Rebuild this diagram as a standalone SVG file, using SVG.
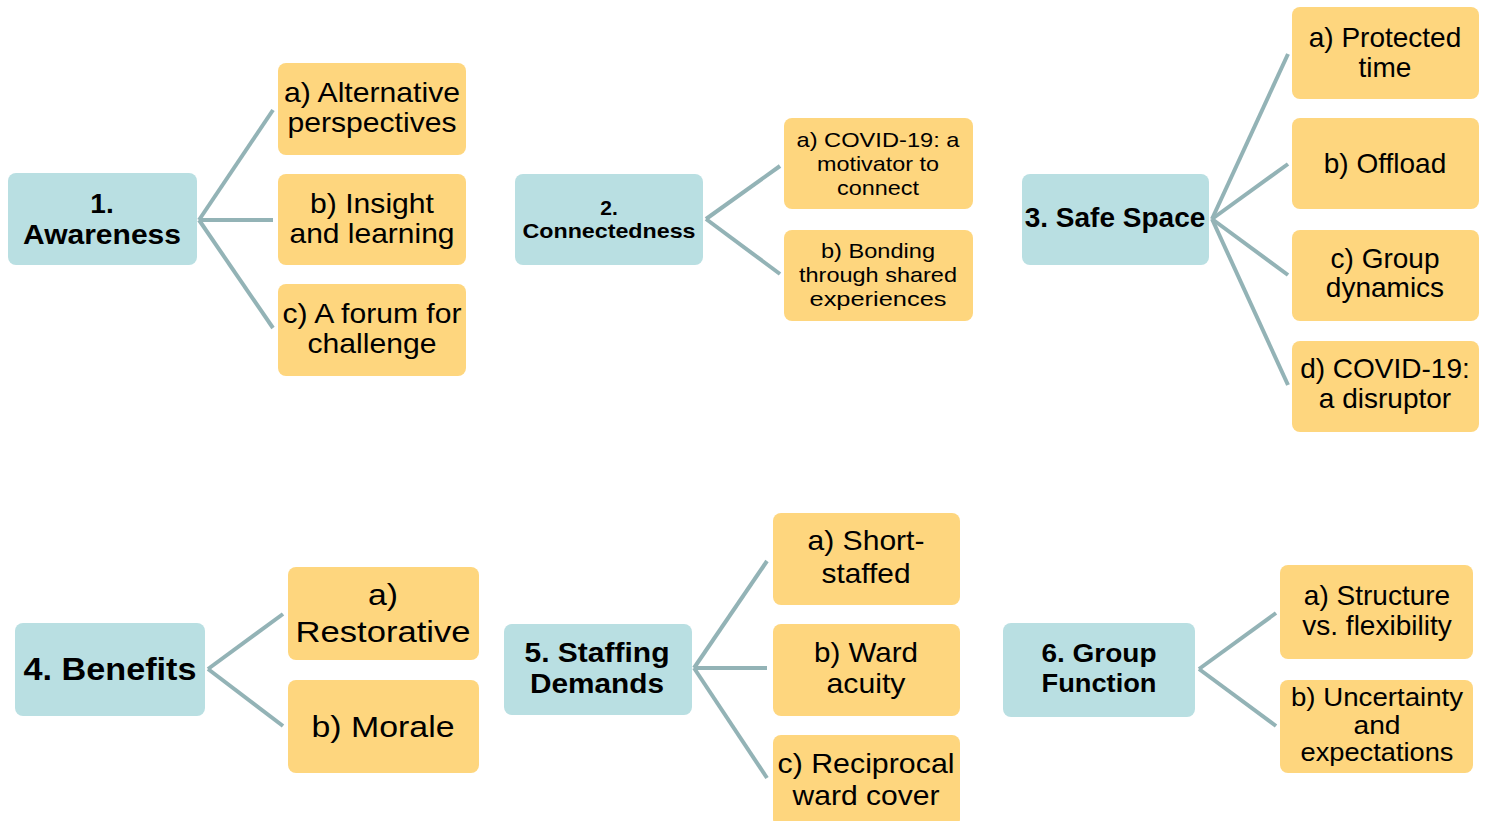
<svg xmlns="http://www.w3.org/2000/svg" width="1486" height="821" viewBox="0 0 1486 821">
<style>
.main{fill:#b9dfe2}
.sub{fill:#fed67e}
.t{font-family:"Liberation Sans",Arial,sans-serif;fill:#000;text-anchor:middle}
.b{font-weight:bold}
.conn line{stroke:#93b3b6;stroke-width:4;stroke-linecap:butt}
</style>
<rect width="1486" height="821" fill="#fff"/>
<g class="conn" id="connectors">
<line x1="199" y1="220" x2="273" y2="110"/>
<line x1="199" y1="220" x2="273" y2="220"/>
<line x1="199" y1="220" x2="273" y2="328"/>
<line x1="706" y1="219" x2="780" y2="166"/>
<line x1="706" y1="219" x2="780" y2="274"/>
<line x1="1212" y1="219" x2="1288" y2="54"/>
<line x1="1212" y1="219" x2="1288" y2="164"/>
<line x1="1212" y1="219" x2="1288" y2="275"/>
<line x1="1212" y1="219" x2="1288" y2="385"/>
<line x1="208" y1="669" x2="283" y2="614"/>
<line x1="208" y1="669" x2="283" y2="726"/>
<line x1="694" y1="668" x2="767" y2="561"/>
<line x1="694" y1="668" x2="767" y2="668"/>
<line x1="694" y1="668" x2="767" y2="778"/>
<line x1="1199" y1="669" x2="1276" y2="613"/>
<line x1="1199" y1="669" x2="1276" y2="726"/>
</g>

<g id="n1">
<rect class="main" x="8" y="173" width="189" height="92" rx="8"/>
<text class="t b" x="102" y="213" font-size="28">1.</text>
<text class="t b" x="102" y="244" font-size="28" textLength="158" lengthAdjust="spacingAndGlyphs">Awareness</text>
</g>
<g id="n1a">
<rect class="sub" x="278" y="63" width="188" height="92" rx="8"/>
<text class="t" x="372" y="102" font-size="28" textLength="176" lengthAdjust="spacingAndGlyphs">a) Alternative</text>
<text class="t" x="372" y="132" font-size="28" textLength="169" lengthAdjust="spacingAndGlyphs">perspectives</text>
</g>
<g id="n1b">
<rect class="sub" x="278" y="174" width="188" height="91" rx="8"/>
<text class="t" x="372" y="213" font-size="28" textLength="124" lengthAdjust="spacingAndGlyphs">b) Insight</text>
<text class="t" x="372" y="243" font-size="28" textLength="165" lengthAdjust="spacingAndGlyphs">and learning</text>
</g>
<g id="n1c">
<rect class="sub" x="278" y="284" width="188" height="92" rx="8"/>
<text class="t" x="372" y="323" font-size="28" textLength="179" lengthAdjust="spacingAndGlyphs">c) A forum for</text>
<text class="t" x="372" y="353" font-size="28" textLength="129" lengthAdjust="spacingAndGlyphs">challenge</text>
</g>

<g id="n2">
<rect class="main" x="515" y="174" width="188" height="91" rx="8"/>
<text class="t b" x="609" y="215" font-size="21">2.</text>
<text class="t b" x="609" y="238" font-size="21" textLength="173" lengthAdjust="spacingAndGlyphs">Connectedness</text>
</g>
<g id="n2a">
<rect class="sub" x="784" y="118" width="189" height="91" rx="8"/>
<text class="t" x="878" y="147" font-size="21" textLength="163" lengthAdjust="spacingAndGlyphs">a) COVID-19: a</text>
<text class="t" x="878" y="171" font-size="21" textLength="122" lengthAdjust="spacingAndGlyphs">motivator to</text>
<text class="t" x="878" y="195" font-size="21" textLength="82" lengthAdjust="spacingAndGlyphs">connect</text>
</g>
<g id="n2b">
<rect class="sub" x="784" y="230" width="189" height="91" rx="8"/>
<text class="t" x="878" y="258" font-size="21" textLength="114" lengthAdjust="spacingAndGlyphs">b) Bonding</text>
<text class="t" x="878" y="282" font-size="21" textLength="158" lengthAdjust="spacingAndGlyphs">through shared</text>
<text class="t" x="878" y="306" font-size="21" textLength="137" lengthAdjust="spacingAndGlyphs">experiences</text>
</g>

<g id="n3">
<rect class="main" x="1022" y="174" width="187" height="91" rx="8"/>
<text class="t b" x="1115" y="227" font-size="28">3. Safe Space</text>
</g>
<g id="n3a">
<rect class="sub" x="1292" y="7" width="187" height="92" rx="8"/>
<text class="t" x="1385" y="47" font-size="28">a) Protected</text>
<text class="t" x="1385" y="77" font-size="28">time</text>
</g>
<g id="n3b">
<rect class="sub" x="1292" y="118" width="187" height="91" rx="8"/>
<text class="t" x="1385" y="173" font-size="28">b) Offload</text>
</g>
<g id="n3c">
<rect class="sub" x="1292" y="230" width="187" height="91" rx="8"/>
<text class="t" x="1385" y="268" font-size="28">c) Group</text>
<text class="t" x="1385" y="297" font-size="28">dynamics</text>
</g>
<g id="n3d">
<rect class="sub" x="1292" y="341" width="187" height="91" rx="8"/>
<text class="t" x="1385" y="378" font-size="28">d) COVID-19:</text>
<text class="t" x="1385" y="408" font-size="28">a disruptor</text>
</g>

<g id="n4">
<rect class="main" x="15" y="623" width="190" height="93" rx="8"/>
<text class="t b" x="110" y="680" font-size="31" textLength="173" lengthAdjust="spacingAndGlyphs">4. Benefits</text>
</g>
<g id="n4a">
<rect class="sub" x="288" y="567" width="191" height="93" rx="8"/>
<text class="t" x="383" y="605" font-size="30" textLength="30" lengthAdjust="spacingAndGlyphs">a)</text>
<text class="t" x="383" y="642" font-size="30" textLength="175" lengthAdjust="spacingAndGlyphs">Restorative</text>
</g>
<g id="n4b">
<rect class="sub" x="288" y="680" width="191" height="93" rx="8"/>
<text class="t" x="383" y="737" font-size="30" textLength="143" lengthAdjust="spacingAndGlyphs">b) Morale</text>
</g>

<g id="n5">
<rect class="main" x="504" y="624" width="188" height="91" rx="8"/>
<text class="t b" x="597" y="662" font-size="28" textLength="145" lengthAdjust="spacingAndGlyphs">5. Staffing</text>
<text class="t b" x="597" y="693" font-size="28" textLength="134" lengthAdjust="spacingAndGlyphs">Demands</text>
</g>
<g id="n5a">
<rect class="sub" x="773" y="513" width="187" height="92" rx="8"/>
<text class="t" x="866" y="550" font-size="28" textLength="117" lengthAdjust="spacingAndGlyphs">a) Short-</text>
<text class="t" x="866" y="583" font-size="28" textLength="89" lengthAdjust="spacingAndGlyphs">staffed</text>
</g>
<g id="n5b">
<rect class="sub" x="773" y="624" width="187" height="92" rx="8"/>
<text class="t" x="866" y="662" font-size="28" textLength="104" lengthAdjust="spacingAndGlyphs">b) Ward</text>
<text class="t" x="866" y="693" font-size="28" textLength="79" lengthAdjust="spacingAndGlyphs">acuity</text>
</g>
<g id="n5c">
<rect class="sub" x="773" y="735" width="187" height="92" rx="8"/>
<text class="t" x="866" y="773" font-size="28" textLength="177" lengthAdjust="spacingAndGlyphs">c) Reciprocal</text>
<text class="t" x="866" y="805" font-size="28" textLength="147" lengthAdjust="spacingAndGlyphs">ward cover</text>
</g>

<g id="n6">
<rect class="main" x="1003" y="623" width="192" height="94" rx="8"/>
<text class="t b" x="1099" y="662" font-size="25" textLength="115" lengthAdjust="spacingAndGlyphs">6. Group</text>
<text class="t b" x="1099" y="692" font-size="25" textLength="115" lengthAdjust="spacingAndGlyphs">Function</text>
</g>
<g id="n6a">
<rect class="sub" x="1280" y="565" width="193" height="94" rx="8"/>
<text class="t" x="1377" y="605" font-size="28">a) Structure</text>
<text class="t" x="1377" y="635" font-size="28">vs. flexibility</text>
</g>
<g id="n6b">
<rect class="sub" x="1280" y="680" width="193" height="93" rx="8"/>
<text class="t" x="1377" y="706" font-size="25" textLength="172" lengthAdjust="spacingAndGlyphs">b) Uncertainty</text>
<text class="t" x="1377" y="734" font-size="25" textLength="47" lengthAdjust="spacingAndGlyphs">and</text>
<text class="t" x="1377" y="761" font-size="25" textLength="153" lengthAdjust="spacingAndGlyphs">expectations</text>
</g>
</svg>
